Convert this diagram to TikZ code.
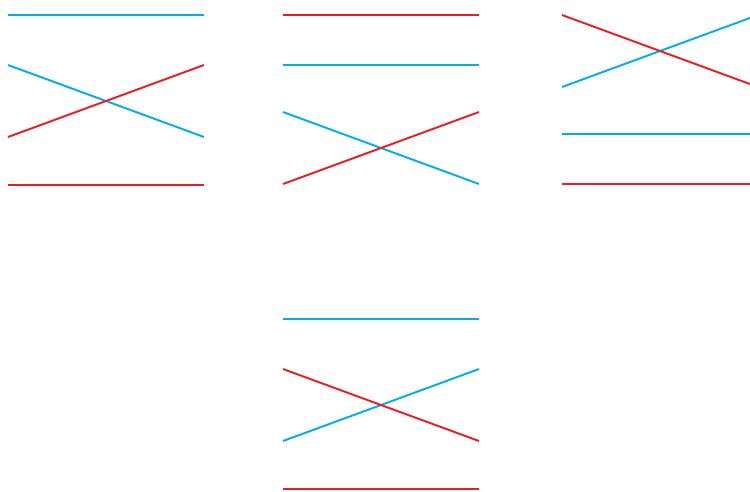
\documentclass[tikz,border=0pt]{standalone}
\definecolor{lblue}{RGB}{0,174,239}
\definecolor{lred}{RGB}{237,28,36}
\tikzset{bl/.style={draw=lblue,line width=1.1pt},rd/.style={draw=lred,line width=1.1pt}}
\begin{document}
\begin{tikzpicture}[x=0.02cm,y=-0.02cm]
\useasboundingbox (0,0) rectangle (750,491);
\clip (0,0) rectangle (750,491);
% panel 1
\draw[bl] (8,15) -- (204,15);
\draw[bl] (8,65) -- (204,137);
\draw[rd] (8,137) -- (204,65);
\draw[rd] (8,185) -- (204,185);
% panel 2
\draw[rd] (283,15) -- (479,15);
\draw[bl] (283,65) -- (479,65);
\draw[bl] (283,112) -- (479,184);
\draw[rd] (283,184) -- (479,112);
% panel 3
\draw[bl] (562,87) -- (758,15);
\draw[rd] (562,15) -- (758,87);
\draw[bl] (562,134) -- (758,134);
\draw[rd] (562,184) -- (758,184);
% panel 4
\draw[bl] (283,319) -- (479,319);
\draw[bl] (283,441) -- (479,369);
\draw[rd] (283,369) -- (479,441);
\draw[rd] (283,489) -- (479,489);
\end{tikzpicture}
\end{document}
